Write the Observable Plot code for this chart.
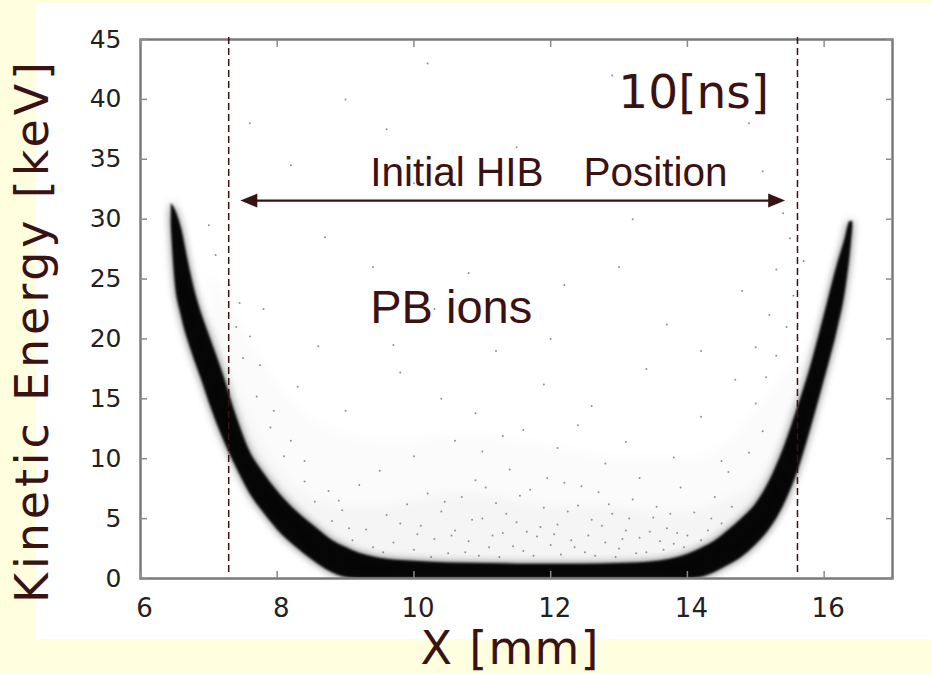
<!DOCTYPE html>
<html><head><meta charset="utf-8">
<script src="https://cdn.jsdelivr.net/npm/d3@7"></script>
<script src="https://cdn.jsdelivr.net/npm/@observablehq/plot@0.6"></script>
<style>
html,body{margin:0;padding:0;background:#FFFFE0;width:932px;height:674px;overflow:hidden;}
#paper{position:absolute;left:36px;top:3px;width:896px;height:636px;background:#ffffff;}
#chart{position:absolute;left:0;top:0;}
</style></head><body>
<div id="paper"></div><div id="chart"></div>
<script>
// ---- data ----
const xTicks = [6, 8, 10, 12, 14, 16];
const yTicks = [0, 5, 10, 15, 20, 25, 30, 35, 40, 45];
const xLabel = "X [mm]";
const yLabel = "Kinetic Energy [keV]";

// dense particle band (lower / upper edge of the black band, keV)
const bandX  = [6.45, 6.5, 6.6, 6.7, 6.8, 6.9, 7.0, 7.2, 7.4, 7.6, 7.8, 8.0, 8.3, 8.6, 8.8, 9.0, 9.2, 9.5, 10.0, 10.5, 11.0, 11.5, 12.0, 12.5, 13.0, 13.5, 14.0, 14.2, 14.4, 14.6, 14.8, 15.0, 15.2, 15.4, 15.6, 15.8, 16.0, 16.2, 16.3, 16.38, 16.42];
const bandLo = [29.5, 25.2, 21.9, 19.8, 18.1, 16.5, 14.8, 11.8, 9.3, 7.1, 5.5, 4.1, 2.5, 1.2, 0.5, 0.1, 0, 0, 0, 0, 0, 0, 0, 0, 0, 0, 0, 0.1, 0.5, 1.1, 1.8, 2.8, 4.1, 6.0, 8.7, 12.4, 16.5, 20.9, 23.6, 27.0, 29.3];
const bandHi = [31.3, 30.9, 29.2, 26.4, 23.9, 22.0, 20.4, 17.2, 13.6, 10.6, 8.8, 7.3, 5.5, 4.1, 3.2, 2.6, 2.1, 1.7, 1.45, 1.3, 1.25, 1.2, 1.2, 1.2, 1.25, 1.4, 2.0, 2.5, 3.1, 4.0, 5.0, 6.2, 8.1, 10.7, 14.0, 17.6, 21.9, 26.3, 28.2, 29.8, 29.8];

// faint scattered-particle haze inside the U
const hazeX   = [7.0, 7.4, 7.8, 8.2, 8.6, 9.0, 9.5, 10.0, 10.5, 11.0, 11.5, 12.0, 12.5, 13.0, 13.5, 14.0, 14.5, 15.0, 15.4, 15.8];
const hazeLo  = [20.4, 13.6, 8.8, 5.9, 4.1, 2.6, 1.7, 1.45, 1.3, 1.25, 1.2, 1.2, 1.2, 1.25, 1.4, 2.0, 3.5, 6.2, 10.7, 17.6];
const hazeHi  = [26, 22, 18, 15, 13, 12, 11.5, 11.5, 12, 12, 11.5, 11, 10.5, 10, 10, 10, 11, 14, 17, 20];
const hazeMid = [22, 16, 11, 8, 6.5, 6, 6, 6.5, 7, 7, 6.5, 6, 6, 6, 5.5, 5.5, 6.5, 8, 12, 18.5];

// individual stray particles [x mm, E keV]
const strayX = [9.1,9.3,9.4,9.6,9.7,9.9,10.0,10.1,10.2,10.3,10.4,10.5,10.6,10.7,10.8,10.9,11.0,11.1,11.2,11.3,11.4,11.5,11.6,11.7,11.8,11.9,12.0,12.1,12.2,12.3,12.4,12.5,12.6,12.7,12.8,12.9,13.0,13.1,13.2,13.3,13.4,13.5,13.6,13.7,13.8,14.0,14.1,14.3,8.8,8.9,9.2,9.5,10.0,10.6,11.0,11.6,12.1,12.8,13.3,13.9,14.4,14.6,14.9,15.1,8.4,8.1,7.9,7.7,7.5,7.4,7.3,7.1,7.0,7.8,8.3,8.6,9.0,9.8,10.4,11.2,11.9,12.6,13.4,14.2,14.7,15.0,15.2,15.3,15.5,14.8,9.4,10.3,12.2,13.7,10.0,11.5,13.2,8.2,14.9,9.0,12.9,7.6,15.1,
  9.25,9.55,9.8,10.05,10.25,10.45,10.55,10.75,10.85,10.95,11.05,11.15,11.25,11.35,11.45,11.55,11.65,11.75,11.85,11.95,12.05,12.15,12.25,12.35,12.45,12.55,12.65,12.75,12.85,12.95,13.05,13.15,13.25,13.45,13.55,13.65,13.75,13.85,13.95,14.2,14.35,14.5,14.65,9.05,8.95,8.75,8.55,8.4,8.2,7.95,7.75,7.6,7.45,10.9,11.3,12.4,13.1,13.8,14.5,15.0,15.15,15.3,15.45,15.55,15.7,15.4,9.7,10.8,12.0,13.0,14.2,8.7,9.6,10.2];
const strayE = [3.2,4.1,2.6,5.3,3.0,6.2,2.4,4.4,7.1,3.3,5.6,2.1,4.0,6.8,3.1,8.2,5.0,2.6,6.3,3.8,9.1,4.7,2.3,7.4,3.5,5.9,2.8,4.5,8.0,3.2,6.1,2.2,4.9,7.2,3.0,5.4,2.5,4.0,6.6,3.4,2.2,5.1,3.1,4.2,2.9,3.6,5.5,4.0,4.8,6.5,7.8,9.0,10.2,11.5,10.6,12.4,10.9,9.6,8.4,7.6,6.8,8.9,10.5,12.3,8.1,10.2,12.6,15.2,18.4,21.0,24.5,27.0,29.5,22.5,16.0,19.4,14.0,17.2,15.0,19.0,16.2,14.4,17.5,13.5,16.6,19.3,22.0,25.8,28.4,24.0,26.0,22.5,24.5,21.2,33.0,36.0,30.0,34.5,38.0,40.0,42.0,38.0,34.0,
  1.9,2.2,4.6,3.7,1.8,6.4,3.6,2.2,4.9,1.9,7.6,3.6,1.8,5.4,2.7,6.9,3.9,1.9,4.3,8.4,3.7,2.0,5.6,2.6,7.7,3.6,1.9,4.4,6.2,1.8,3.3,5.0,2.1,3.9,6.0,2.4,5.4,3.8,2.6,3.2,5.0,4.6,6.0,4.2,5.7,7.3,6.4,9.8,11.5,14.0,17.8,20.2,23.0,13.8,11.9,12.8,11.4,10.1,9.8,14.6,16.8,18.6,21.0,23.6,26.5,30.5,19.5,25.5,20.0,26.0,19.0,28.5,37.5,43.0];

// annotations
const hibEdges = [7.29, 15.61];          // initial HIB position (dashed lines)
const arrowY = 31.55, arrowFrom = 7.46, arrowTo = 15.43;
const notes = [
  {x: 9.36, y: 32.8, text: "Initial HIB", size: 40.5, font: "Liberation Sans, Arial, sans-serif"},
  {x: 12.48, y: 32.8, text: "Position", size: 40.5, font: "Liberation Sans, Arial, sans-serif"},
  {x: 9.36, y: 21.37, text: "PB ions", size: 47, font: "Liberation Sans, Arial, sans-serif"},
  {x: 12.99, y: 39.3, text: "10[ns]", size: 47, font: "DejaVu Sans, Verdana, sans-serif"}
];

// ---- tables ----
const band = bandX.map((x, i) => ({x, lo: bandLo[i], hi: bandHi[i]}));
const haze = hazeX.map((x, i) => ({x, lo: hazeLo[i], hi: hazeHi[i], mid: hazeMid[i]}));
const stray = strayX.map((x, i) => ({x, y: strayE[i]}));

const ink = "#3a1212";
const tickFont = "DejaVu Sans, Verdana, sans-serif";

const svg = Plot.plot({
  width: 932, height: 674,
  marginLeft: 140, marginRight: 40, marginTop: 39, marginBottom: 96,
  style: "background: transparent; overflow: visible; max-width: none;",
  x: {domain: [6, 17]},
  y: {domain: [0, 45]},
  marks: [
    Plot.areaY(haze, {x: "x", y1: "lo", y2: "hi", fill: "#000", fillOpacity: 0.015, curve: "monotone-x"}),
    Plot.areaY(haze, {x: "x", y1: "lo", y2: "mid", fill: "#000", fillOpacity: 0.025, curve: "monotone-x"}),
    Plot.dot(stray, {x: "x", y: "y", r: 1, fill: "#909090", stroke: "none"}),
    Plot.areaY(band, {x: "x", y1: "lo", y2: "hi", fill: "#000", fillOpacity: 0.6, curve: "monotone-x", clip: "frame"}),
    Plot.areaY(band, {x: "x", y1: "lo", y2: "hi", fill: "#000", fillOpacity: 0.95, curve: "monotone-x", clip: "frame"}),
    Plot.frame({stroke: "#7a7a7a", strokeWidth: 2.5}),
    // inward ticks on four sides
    Plot.axisX(xTicks, {anchor: "bottom", tickSize: -7, fill: "none", stroke: "#8a8a8a", strokeWidth: 1.5, label: null}),
    Plot.axisX(xTicks, {anchor: "top", tickSize: -7, fill: "none", stroke: "#8a8a8a", strokeWidth: 1.5, label: null}),
    Plot.axisY(yTicks, {anchor: "left", tickSize: -7, fill: "none", stroke: "#8a8a8a", strokeWidth: 1.5, label: null}),
    Plot.axisY(yTicks, {anchor: "right", tickSize: -7, fill: "none", stroke: "#8a8a8a", strokeWidth: 1.5, label: null}),
    // tick labels
    Plot.axisX(xTicks, {anchor: "bottom", tickSize: 0, tickPadding: 20, dx: 4, fill: "#222", fontSize: 26, fontFamily: tickFont, label: null}),
    Plot.axisY(yTicks, {anchor: "left", tickSize: 0, tickPadding: 19, fill: "#222", fontSize: 25, fontFamily: tickFont, label: null}),
    // initial HIB position
    Plot.ruleX(hibEdges, {y1: 0.5, y2: 45.5, stroke: ink, strokeWidth: 1.5, strokeDasharray: "7,4"}),
    Plot.ruleY([arrowY], {x1: arrowFrom + 0.15, x2: arrowTo - 0.15, stroke: ink, strokeWidth: 2.3}),
    Plot.vector([{x: arrowTo, y: arrowY}], {x: "x", y: "y", rotate: 90, anchor: "end", shape: "spike", length: 17, r: 7, fill: ink, stroke: "none"}),
    Plot.vector([{x: arrowFrom, y: arrowY}], {x: "x", y: "y", rotate: -90, anchor: "end", shape: "spike", length: 17, r: 7, fill: ink, stroke: "none"}),
    ...notes.map(n => Plot.text([n], {x: "x", y: "y", text: "text", textAnchor: "start", lineAnchor: "bottom", fontSize: n.size, fontFamily: n.font, fill: ink})),
    // axis titles
    Plot.text([yLabel], {frameAnchor: "left", rotate: -90, dx: -93, dy: 23.5, lineAnchor: "bottom", textAnchor: "middle", fontSize: 46, fontFamily: "DejaVu Sans, Verdana, sans-serif", fill: ink}),
    Plot.text([xLabel], {frameAnchor: "bottom", dx: -7, dy: 85, lineAnchor: "bottom", textAnchor: "middle", fontSize: 46, fontFamily: "DejaVu Sans, Verdana, sans-serif", fill: ink})
  ]
});

// soft particle edges
const s = d3.select(svg);
const defs = s.insert("defs", ":first-child");
[["blurHaze", 5], ["blurHalo", 4], ["blurCore", 1]].forEach(([id, sd]) => {
  defs.append("filter").attr("id", id).attr("x", "-10%").attr("y", "-10%").attr("width", "120%").attr("height", "120%")
    .append("feGaussianBlur").attr("stdDeviation", sd);
});
const areas = s.selectAll('g[aria-label="area"]').nodes();
if (areas[0]) d3.select(areas[0]).selectAll("path").attr("filter", "url(#blurHaze)");
if (areas[1]) d3.select(areas[1]).selectAll("path").attr("filter", "url(#blurHaze)");
if (areas[2]) d3.select(areas[2]).selectAll("path").attr("filter", "url(#blurHalo)");
if (areas[3]) d3.select(areas[3]).selectAll("path").attr("filter", "url(#blurCore)");
s.selectAll("text").filter(function () { return this.textContent === yLabel; })
  .attr("textLength", 541).attr("lengthAdjust", "spacing");
s.selectAll("text").filter(function () { return this.textContent === xLabel; })
  .attr("textLength", 178).attr("lengthAdjust", "spacing");

document.getElementById("chart").appendChild(svg);
</script>
</body></html>
